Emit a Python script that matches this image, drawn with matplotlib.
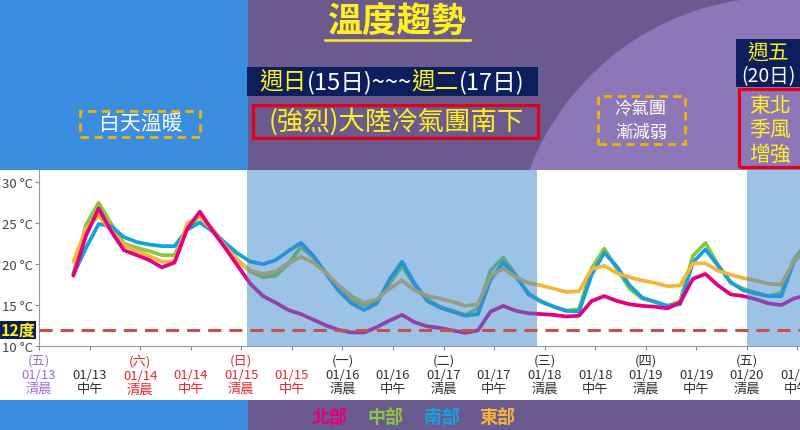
#!/usr/bin/env python3
# temperature trend chart (01/13 - 01/20)

import numpy as np
import matplotlib
matplotlib.use("Agg")
import matplotlib.pyplot as plt
from matplotlib.patches import Rectangle, Ellipse
from matplotlib.lines import Line2D

# 3-hourly samples, x measured in tick slots (0 = 01/13 清晨, 1 = 01/13 中午, ...)
x_start = 0.68
x_step = 0.25

north = [18.6, 23.5, 26.8, 24.0, 21.7, 21.1, 20.5, 19.6, 20.2, 24.3,
         26.4, 24.1, 22.0, 19.8, 17.6, 16.1, 15.3, 14.4, 13.9, 13.2,
         12.5, 11.95, 11.65, 11.65, 12.3, 13.1, 13.8, 12.9, 12.4, 12.2,
         11.9, 11.6, 11.9, 14.2, 14.9, 14.3, 14.0, 13.9, 13.8, 13.6,
         13.7, 15.5, 16.1, 15.5, 15.1, 14.9, 14.8, 14.6, 15.3, 18.2,
         18.8, 17.4, 16.3, 16.1, 15.7, 15.2, 15.0, 15.8, 16.2]
central = [18.8, 24.8, 27.5, 24.9, 22.5, 22.0, 21.6, 21.1, 21.1, 24.3,
           25.9, 24.3, 22.4, 20.5, 19.1, 18.4, 18.6, 20.0, 22.1, 20.8,
           18.9, 17.0, 15.6, 15.0, 15.4, 17.6, 19.8, 17.4, 15.7, 14.8,
           14.3, 13.8, 14.6, 19.2, 20.8, 18.7, 16.3, 15.5, 14.8, 14.3,
           14.5, 19.5, 21.9, 19.4, 17.0, 15.8, 15.4, 14.9, 15.5, 21.0,
           22.6, 19.9, 17.7, 17.0, 16.5, 16.1, 16.5, 20.6, 22.5]
south = [18.7, 22.0, 24.9, 24.6, 23.3, 22.7, 22.4, 22.2, 22.2, 24.2,
         25.1, 24.0, 22.6, 21.3, 20.3, 20.0, 20.5, 21.6, 22.6, 21.0,
         18.8, 16.7, 15.2, 14.4, 15.2, 18.1, 20.3, 17.6, 15.5, 14.7,
         14.2, 13.7, 13.9, 18.1, 20.2, 18.5, 16.4, 15.4, 14.8, 14.3,
         14.2, 18.7, 21.4, 19.7, 17.4, 15.9, 15.4, 14.9, 15.1, 20.2,
         21.8, 19.8, 17.8, 16.8, 16.4, 16.1, 16.1, 20.3, 22.0]
east = [20.3, 24.3, 25.9, 24.1, 22.3, 21.6, 21.0, 20.3, 20.3, 25.0,
        25.8, 24.1, 22.2, 20.4, 19.2, 18.8, 19.1, 20.1, 20.9, 20.2,
        18.9, 17.4, 16.1, 15.3, 15.7, 17.0, 18.0, 16.8, 16.1, 15.8,
        15.4, 14.9, 15.1, 18.5, 19.5, 18.4, 17.7, 17.4, 17.0, 16.6,
        16.7, 19.4, 19.8, 18.9, 18.4, 18.0, 17.7, 17.3, 17.4, 20.1,
        20.1, 19.2, 18.7, 18.3, 18.0, 17.6, 17.5, 20.4, 22.0]

region_names = ["北部", "中部", "南部", "東部"]
region_colors = ["#e4007f", "#8cc63f", "#16a0e0", "#f5b43a"]

weekdays = ["(五)", "", "(六)", "", "(日)", "", "(一)", "", "(二)", "",
            "(三)", "", "(四)", "", "(五)", ""]
dates = ["01/13", "01/13", "01/14", "01/14", "01/15", "01/15", "01/16",
         "01/16", "01/17", "01/17", "01/18", "01/18", "01/19", "01/19",
         "01/20", "01/20"]
periods = ["清晨", "中午"] * 8
label_colors = ["#9d6ee0", "#333333", "#e8282e", "#e8282e", "#e8282e",
                "#e8282e"] + ["#333333"] * 10

yticks = [10, 15, 20, 25, 30]
threshold = 12
cold_spans = [(4.12, 9.85), (14.0, 15.2)]

W, H = 800, 431
YELLOW = "#fff21c"
NAVY = "#0c1f5c"
RED = "#e3001b"


def fx(x):
    return x / W


def fy(y):
    return 1 - y / H


def box(fig, x0, y0, x1, y1, **kw):
    r = Rectangle((fx(x0), fy(y1)), (x1 - x0) / W, (y1 - y0) / H,
                  transform=fig.transFigure, **kw)
    fig.add_artist(r)
    return r


def label(fig, x, y, s, **kw):
    return fig.text(fx(x), fy(y), s, ha="center", va="center", **kw)


def multicolor(fig, cx, cy, parts, size):
    # lay coloured pieces side by side, centred on cx
    r = fig.canvas.get_renderer()
    texts = [fig.text(0, fy(cy), s, color=c, fontsize=size, va="center")
             for s, c in parts]
    widths = [t.get_window_extent(r).width for t in texts]
    x = cx - sum(widths) / 2
    for t, w in zip(texts, widths):
        t.set_x(fx(x))
        x += w


def main():
    plt.rcParams["font.family"] = ["Noto Sans CJK TC", "DejaVu Sans"]
    fig = plt.figure(figsize=(8, 4.31), dpi=100)
    fig.patch.set_facecolor("#6a5a8e")

    # backdrop
    box(fig, 0, 0, 248, 431, facecolor="#3b8ddf", edgecolor="none", zorder=-10)
    fig.add_artist(Ellipse((fx(780), fy(266)), 2 * 268 / W, 2 * 268 / H,
                           transform=fig.transFigure, facecolor="#8e77b9",
                           edgecolor="none", zorder=-9))
    box(fig, 248, 400, 800, 431, facecolor="#6a5a8e", edgecolor="none", zorder=-8)
    box(fig, 0, 400, 248, 431, facecolor="#3b8ddf", edgecolor="none", zorder=-8)
    box(fig, 0, 171, 800, 401, facecolor="white", edgecolor="none", zorder=-7)

    ax = fig.add_axes([fx(39), fy(347), 1 - fx(39), (347 - 171) / H])
    ax.set_facecolor("none")

    xs = x_start + x_step * np.arange(len(north))
    series = [north, central, south, east]
    order = [4, 1, 2, 3]
    for vals, color, z in zip(series, region_colors, order):
        ax.plot(xs, vals, color=color, lw=2.7, zorder=z,
                solid_joinstyle="round", solid_capstyle="round")

    for a, b in cold_spans:
        ax.axvspan(a, b, color="#3a87cc", alpha=0.5, lw=0, zorder=5)

    ax.axhline(threshold, color="#c9504b", lw=2.2, ls=(0, (4.3, 2.6)), zorder=6)

    ax.set_xlim(0, 15.05)
    ax.set_ylim(10, 31.5)
    ax.set_yticks(yticks)
    ax.set_yticklabels([f"{v} °C" for v in yticks], fontsize=9.5, color="#444444")

    ticklabels = [f"{w if w else ' '}\n{d}\n{p}"
                  for w, d, p in zip(weekdays, dates, periods)]
    ax.set_xticks(np.arange(len(dates)))
    ax.set_xticklabels(ticklabels, fontsize=9.5, linespacing=1.12)
    for t, c in zip(ax.get_xticklabels(), label_colors):
        t.set_color(c)

    ax.tick_params(length=3, color="#888888", pad=1.5)
    ax.tick_params(axis="x", pad=2.5)
    for s in ("top", "right"):
        ax.spines[s].set_visible(False)
    for s in ("left", "bottom"):
        ax.spines[s].set_color("#999999")

    # 12 degree marker
    box(fig, 0, 322, 36, 340, facecolor=NAVY, edgecolor="none", zorder=2)
    label(fig, 18, 331, f"{threshold}度", color=YELLOW, fontsize=11.5,
          fontweight="bold", zorder=3)

    # title
    label(fig, 397, 21, "溫度趨勢", color=YELLOW, fontsize=25, fontweight="bold")
    fig.add_artist(Line2D([fx(325), fx(470)], [fy(41), fy(41)], color=YELLOW,
                          lw=1.8, transform=fig.transFigure))

    # cold air outbreak
    box(fig, 247, 68, 538, 97, facecolor=NAVY, edgecolor="none", zorder=-5)
    multicolor(fig, 392, 83, [("週日", YELLOW), ("(15日)~~~", "white"),
                              ("週二", YELLOW), ("(17日)", "white")], 17)
    box(fig, 253, 106, 538, 139, facecolor="none", edgecolor=RED, lw=2.3, zorder=-5)
    label(fig, 396, 122, "(強烈)大陸冷氣團南下", color=YELLOW, fontsize=19)

    # warm daytime
    box(fig, 80, 112, 200, 138, facecolor="none", edgecolor="#f4b400", lw=2,
        ls=(0, (3, 2)), zorder=-5)
    label(fig, 141, 124, "白天溫暖", color="white", fontsize=15)

    # weakening
    box(fig, 598, 97, 685, 145, facecolor="none", edgecolor="#f4b400", lw=2,
        ls=(0, (3, 2)), zorder=-5)
    label(fig, 641, 109, "冷氣團", color="white", fontsize=12.5)
    label(fig, 641, 133, "漸減弱", color="white", fontsize=12.5)

    # friday monsoon
    box(fig, 736, 40, 800, 88, facecolor=NAVY, edgecolor="none", zorder=-5)
    label(fig, 768, 54, "週五", color=YELLOW, fontsize=15)
    label(fig, 768, 77, "(20日)", color="white", fontsize=14)
    box(fig, 739, 90, 802, 168, facecolor="none", edgecolor=RED, lw=2.3, zorder=-5)
    for y, s in zip([106, 130, 155], ["東北", "季風", "增強"]):
        label(fig, 770, y, s, color=YELLOW, fontsize=15)

    # legend
    for x, name, color in zip([330, 385, 442, 497], region_names, region_colors):
        label(fig, x, 417, name, color=color, fontsize=13, fontweight="bold")

    fig.savefig("out.png", dpi=100)


if __name__ == "__main__":
    main()
